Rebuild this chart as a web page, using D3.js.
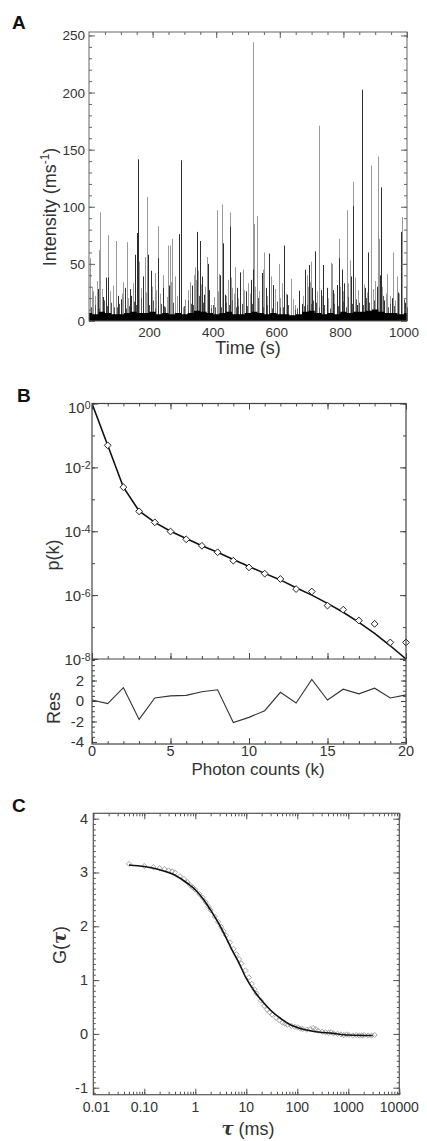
<!DOCTYPE html>
<html>
<head>
<meta charset="utf-8">
<script src="https://cdn.jsdelivr.net/npm/d3@7"></script>
<style>
  body { margin: 0; background: #fff; }
  svg text { font-family: "Liberation Sans", Arial, sans-serif; fill: #333; }
</style>
</head>
<body>
<svg id="fig" width="427" height="1141"></svg>
<script>
// ---- Panel A: intensity trace, [time (s), intensity (ms-1)] ----
const spikesLight = [
  [3,55],[13.6,26],[30.4,62],[35.6,95],[60.8,75],[85,70],[108,34],[118.5,69],[158,52],[175,56],
  [183,108.6],[206.5,42],[216,83],[231.7,40],[247.4,66],[253.7,66],[261,72],[269.4,39],[295.6,12],
  [316.6,34],[330,40],[334.4,47],[370,56],[384.7,14],[401.5,97],[408.8,41],[418,102],[437,36],
  [443.4,95],[449.7,29],[458,47],[484.3,45],[501,33],[515,244],[518.9,85],[527.3,92],[546,45],
  [551.3,60],[572.3,39],[596.5,50],[606,33],[634.3,37],[647.8,14],[685.5,40],[698,52],[723,171],
  [760,51],[763,50],[787,72],[810.2,97],[820.8,53],[831,121.8],[886,136],[887.8,38],[910,144],
  [913,72],[938,41],[955,60],[967.6,39],[985.3,91]
];
const spikesMid = [
  [8,30],[18,22],[25,35],[40,28],[66,26],[75,31],[104,24],[122,20],[137,33],[162,29],[179,25],
  [198,30],[210,27],[222,24],[244,21],[258,34],[276,22],[302,19],[312,27],[338,36],[344,44],
  [352,32],[366,30],[392,21],[405,26],[421,30],[431,22],[447,38],[455,24],[470,20],[488,27],
  [505,24],[522,30],[535,26],[560,22],[585,28],[602,20],[618,24],[641,19],[672,22],[688,30],
  [695,34],[716,26],[732,22],[752,20],[772,24],[790,30],[798,26],[816,33],[836,38],[847,27],
  [864,32],[873,25],[893,28],[900,35],[922,30],[933,24],[948,22],[962,18],[976,24],[997,30]
];
const spikesDark = [
  [28.3,28],[43,21],[53.5,38],[59.7,38],[92,22],[99.5,19],[113,29],[129,28],[132,22],[145.7,58],
  [150,77],[153,141.6],[170.9,39],[185.5,58],[195,44],[216,55],[233.8,29],[252.6,31],[284,76],
  [290,140.7],[324,31],[340.6,78],[348,70],[349,53],[356.4,39],[361.6,23],[373,50],[378.4,27],
  [413,40],[422.5,68],[426.6,23],[442.4,82.5],[464.4,29],[476,42.5],[492.7,26],[508.4,36],
  [514.8,45],[543,42],[556.6,29],[567,59],[579.6,31.5],[614,66],[621.7,23],[660.4,26.5],[668.8,15],
  [680,45],[692.8,49],[701.3,29],[710.7,61],[729.6,27],[736.9,49],[747.4,29],[766,27],[779,31.5],
  [786,55],[794.6,45],[802.9,33],[824,39],[831.5,100.5],[841.8,14],[857,202.5],[858.5,87],[868,29],
  [876.4,60],[904.7,30],[914,40],[918,117],[928.6,18],[952.8,20],[970.7,25],[981,78],[993.7,16]
];
const spikesSmall = [
  [20,14],[48,18],[70,16],[78,12],[95,15],[125,13],[140,17],[165,20],[190,14],[200,18],[225,15],
  [240,12],[265,16],[300,13],[310,18],[320,15],[345,22],[390,14],[395,12],[430,16],[450,18],[470,13],
  [480,15],[530,20],[560,14],[590,17],[600,12],[625,14],[655,11],[675,13],[705,18],[715,16],[740,14],
  [770,15],[800,17],[815,21],[840,19],[850,16],[870,20],[895,18],[925,22],[945,15],[960,13],[990,19],
  [5,12],[33,11],[57,13],[88,12],[116,11],[148,14],[171,12],[206,11],[236,13],[282,12],[327,14],
  [359,16],[383,11],[416,12],[440,14],[462,12],[497,13],[512,15],[548,12],[575,11],[610,12],
  [648,10],[684,14],[697,15],[724,12],[757,11],[782,13],[807,12],[828,15],[861,14],[881,16],
  [907,15],[916,17],[940,12],[972,11],[1000,12]
];
const baselineTime = [0,20,40,60,80,100,120,140,160,180,200,220,240,260,280,300,320,340,360,380,400,
  420,440,460,480,500,520,540,560,580,600,620,640,660,680,700,720,740,760,780,800,820,840,860,880,
  900,920,940,960,980,1000];
const baselineLevel = [7,6,8,7,6,6,7,8,7,7,8,6,7,6,7,6,7,9,8,7,6,7,8,6,6,7,8,7,6,7,6,6,5,6,8,9,7,6,7,6,
  8,7,8,8,9,10,8,7,7,6,7];
const timeTicks = [200,400,600,800,1000];
const intensityTicks = [0,50,100,150,200,250];

// ---- Panel B: photon counting histogram ----
const photonK = [1,2,3,4,5,6,7,8,9,10,11,12,13,14,15,16,17,18,19,20];
const pkObserved = [4.9e-2,2.4e-3,4.2e-4,1.9e-4,9.8e-5,5.6e-5,3.5e-5,2.2e-5,1.2e-5,7.4e-6,4.7e-6,
  3.2e-6,1.55e-6,1.3e-6,4.7e-7,3.5e-7,1.6e-7,1.26e-7,3.3e-8,3.3e-8];
const fitK = [0,1,2,3,4,5,6,7,8,9,10,11,12,13,14,15,16,17,18,19,20];
const pkFit = [1,4.9e-2,2.4e-3,4.3e-4,1.9e-4,1.0e-4,5.9e-5,3.5e-5,2.2e-5,1.3e-5,7.9e-6,4.8e-6,
  3.0e-6,1.7e-6,1.0e-6,5.5e-7,2.9e-7,1.4e-7,6.3e-8,2.6e-8,1.0e-8];
const residuals = [0.1,-0.25,1.3,-1.8,0.3,0.5,0.55,0.9,1.1,-2.1,-1.6,-0.95,0.85,-0.2,2.1,0.1,1.15,
  0.7,1.25,0.3,0.6];
const kTicks = [0,5,10,15,20];
const pkTicks = [0,-2,-4,-6,-8];
const resTicks = [2,0,-2,-4];

// ---- Panel C: autocorrelation ----
const tauData = [0.05,0.1,0.15,0.2,0.25,0.3,0.35,0.4,0.5,0.6,0.7,0.8,0.9,1.0,1.2,1.4,1.6,1.8,2.0,
  2.4,2.8,3.2,3.6,4.0,4.8,5.6,6.4,7.2,8.0,9.6,11.2,12.8,14.4,16,19.2,22.4,25.6,28.8,32,38.4,44.8,
  51.2,57.6,64,76.8,89.6,102,115,128,154,179,205,230,256,307,358,410,461,512,614,717,819,922,1024,
  1229,1434,1638,1843,2048,2458,2867,3277];
const gData = [3.16,3.12,3.10,3.08,3.06,3.04,3.02,3.00,2.93,2.88,2.82,2.76,2.72,2.68,2.60,2.53,2.45,
  2.37,2.30,2.18,2.08,1.99,1.91,1.83,1.70,1.58,1.48,1.39,1.31,1.18,1.05,0.93,0.83,0.75,0.62,0.52,
  0.45,0.40,0.36,0.30,0.25,0.21,0.19,0.17,0.15,0.13,0.12,0.10,0.09,0.08,0.09,0.11,0.09,0.06,0.04,
  0.03,0.02,0.03,0.01,0.00,-0.01,-0.02,-0.01,-0.02,-0.03,-0.02,-0.03,-0.03,-0.02,-0.03,-0.03,-0.02];
const tauFit = [0.05,0.1,0.2,0.4,0.7,1,1.5,2,3,4,5,7,10,15,20,30,50,70,100,200,500,1000,3000];
const gFit = [3.14,3.11,3.05,2.95,2.80,2.68,2.48,2.30,2.02,1.79,1.60,1.34,1.03,0.77,0.62,0.44,0.27,
  0.18,0.12,0.05,0.01,-0.02,-0.03];
const tauTicks = [0.01,0.1,1,10,100,1000,10000];
const tauLabels = ["0.01","0.10","1","10","100","1000","10000"];
const gTicks = [4,3,2,1,0,-1];

const svg = d3.select("#fig");

function ticks(g, axis, transform, color) {
  g.append("g")
    .attr("transform", transform)
    .call(axis)
    .call(s => s.select(".domain").remove())
    .call(s => s.selectAll("line").attr("stroke", color))
    .call(s => s.selectAll("text").remove());
}

function panelLabel(x, y, t) {
  svg.append("text").attr("x", x).attr("y", y)
    .style("font-size", "19px").style("font-weight", "bold").style("fill", "#111").text(t);
}

// ================= A =================
(function () {
  const x = d3.scaleLinear().domain([0, 1000]).range([89, 407]);
  const y = d3.scaleLinear().domain([0, 253]).range([321, 32]);
  const col = "#666";
  const g = svg.append("g");

  panelLabel(12, 28.5, "A");

  const px = d => Math.round(x(d[0])) + 0.5;
  function spikes(data, color) {
    g.append("g").selectAll("line").data(data).join("line")
      .attr("x1", px).attr("x2", px).attr("y1", y(0)).attr("y2", d => y(d[1]))
      .attr("stroke", color).attr("stroke-width", 1);
  }
  spikes(spikesLight, "#999");
  spikes(spikesMid, "#9e9e9e");
  spikes(spikesSmall, "#555");
  spikes(spikesDark, "#2e2e2e");

  const area = d3.area().curve(d3.curveStep)
    .x((d, i) => x(baselineTime[i])).y0(y(0)).y1(d => y(d));
  g.append("path").datum(baselineLevel).attr("d", area).attr("fill", "#000");

  // frame + inward ticks
  ticks(g, d3.axisLeft(y).tickValues(d3.range(0, 251, 10)).tickSize(-3), "translate(89,0)", col);
  ticks(g, d3.axisLeft(y).tickValues(intensityTicks).tickSize(-6), "translate(89,0)", col);
  ticks(g, d3.axisRight(y).tickValues(d3.range(0, 251, 10)).tickSize(-3), "translate(407,0)", col);
  ticks(g, d3.axisRight(y).tickValues(intensityTicks).tickSize(-6), "translate(407,0)", col);
  ticks(g, d3.axisTop(x).tickValues(d3.range(50, 1000, 50)).tickSize(-3), "translate(0,32)", col);
  ticks(g, d3.axisTop(x).tickValues(timeTicks).tickSize(-6), "translate(0,32)", col);
  g.append("rect").attr("x", 89).attr("y", 32).attr("width", 318).attr("height", 289)
    .attr("fill", "none").attr("stroke", col).attr("stroke-width", 1);

  g.selectAll(".yl").data(intensityTicks).join("text")
    .attr("x", 85).attr("y", d => y(d) + 5).attr("text-anchor", "end")
    .style("font-size", "13.5px").text(d => d);
  g.selectAll(".xl").data(timeTicks).join("text")
    .attr("x", d => x(d) - 3).attr("y", 336.5).attr("text-anchor", "middle")
    .style("font-size", "13.5px").text(d => d);

  g.append("text").attr("x", 248).attr("y", 354).attr("text-anchor", "middle")
    .style("font-size", "18px").text("Time (s)");
  const yt = g.append("text").attr("transform", "translate(56,207) rotate(-90)")
    .attr("text-anchor", "middle").style("font-size", "18px");
  yt.append("tspan").text("Intensity (ms");
  yt.append("tspan").attr("dy", -7).style("font-size", "12px").text("-1");
  yt.append("tspan").attr("dy", 7).text(")");
})();

// ================= B =================
(function () {
  const x = d3.scaleLinear().domain([0, 20]).range([92, 406]);
  const y = d3.scaleLog().domain([1e-8, 1]).range([659, 403.5]);
  const yr = d3.scaleLinear().domain([-4.2, 4.1]).range([744, 659]);
  const col = "#444";
  const g = svg.append("g");

  panelLabel(17, 401.5, "B");

  g.append("defs").append("clipPath").attr("id", "clipB")
    .append("rect").attr("x", 92).attr("y", 403.5).attr("width", 314).attr("height", 255.5);

  const line = d3.line().x((d, i) => x(fitK[i])).y(d => y(d));
  g.append("path").datum(pkFit).attr("d", line).attr("clip-path", "url(#clipB)")
    .attr("fill", "none").attr("stroke", "#111").attr("stroke-width", 1.6);

  const r = 3.4;
  g.selectAll(".dm").data(pkObserved).join("path")
    .attr("d", (d, i) => {
      const cx = x(photonK[i]), cy = y(d);
      return `M${cx},${cy - r}L${cx + r},${cy}L${cx},${cy + r}L${cx - r},${cy}Z`;
    })
    .attr("fill", "#fff").attr("stroke", "#222").attr("stroke-width", 1);

  const rline = d3.line().x((d, i) => x(fitK[i])).y(d => yr(d));
  g.append("path").datum(residuals).attr("d", rline)
    .attr("fill", "none").attr("stroke", "#333").attr("stroke-width", 1.1);

  // ticks
  const decades = [1, 1e-1, 1e-2, 1e-3, 1e-4, 1e-5, 1e-6, 1e-7, 1e-8];
  const evenDec = [1, 1e-2, 1e-4, 1e-6, 1e-8];
  ticks(g, d3.axisLeft(y).tickValues(decades).tickSize(-3), "translate(92,0)", col);
  ticks(g, d3.axisLeft(y).tickValues(evenDec).tickSize(-6), "translate(92,0)", col);
  ticks(g, d3.axisRight(y).tickValues(decades).tickSize(-3), "translate(406,0)", col);
  ticks(g, d3.axisRight(y).tickValues(evenDec).tickSize(-6), "translate(406,0)", col);
  ticks(g, d3.axisTop(x).tickValues(d3.range(1, 20)).tickSize(-3), "translate(0,403.5)", col);
  ticks(g, d3.axisTop(x).tickValues(kTicks).tickSize(-6), "translate(0,403.5)", col);
  ticks(g, d3.axisBottom(x).tickValues(d3.range(1, 20)).tickSize(-3), "translate(0,659)", col);
  ticks(g, d3.axisBottom(x).tickValues(kTicks).tickSize(-6), "translate(0,659)", col);
  ticks(g, d3.axisLeft(yr).tickValues(d3.range(-4, 4.01, 0.5)).tickSize(-3), "translate(92,0)", col);
  ticks(g, d3.axisLeft(yr).tickValues(resTicks).tickSize(-5), "translate(92,0)", col);
  ticks(g, d3.axisRight(yr).tickValues(d3.range(-4, 4.01, 0.5)).tickSize(-3), "translate(406,0)", col);
  ticks(g, d3.axisRight(yr).tickValues(resTicks).tickSize(-5), "translate(406,0)", col);
  ticks(g, d3.axisBottom(x).tickValues(d3.range(1, 20)).tickSize(-3), "translate(0,744)", col);
  ticks(g, d3.axisBottom(x).tickValues(kTicks).tickSize(-6), "translate(0,744)", col);

  g.append("rect").attr("x", 92).attr("y", 403.5).attr("width", 314).attr("height", 340.5)
    .attr("fill", "none").attr("stroke", col).attr("stroke-width", 1.2);
  g.append("line").attr("x1", 92).attr("x2", 406).attr("y1", 659).attr("y2", 659)
    .attr("stroke", col).attr("stroke-width", 1.2);

  // labels
  g.selectAll(".pl").data(pkTicks).join("text")
    .attr("x", 90.5).attr("y", d => y(Math.pow(10, d)) + (d === 0 ? 9 : 5.5))
    .attr("text-anchor", "end").style("font-size", "15px")
    .each(function (d) {
      const t = d3.select(this);
      t.append("tspan").text("10");
      t.append("tspan").attr("dy", -4).style("font-size", "10.5px").text(d);
    });
  g.selectAll(".rl").data(resTicks).join("text")
    .attr("x", 84).attr("y", d => yr(d) + 5.5).attr("text-anchor", "end")
    .style("font-size", "15px").text(d => d);
  g.selectAll(".kl").data(kTicks).join("text")
    .attr("x", d => x(d)).attr("y", 756).attr("text-anchor", "middle")
    .style("font-size", "14.5px").text(d => d);

  g.append("text").attr("x", 258).attr("y", 775).attr("text-anchor", "middle")
    .style("font-size", "17px").text("Photon counts (k)");
  g.append("text").attr("transform", "translate(59,555) rotate(-90)")
    .attr("text-anchor", "middle").style("font-size", "18px").text("p(k)");
  g.append("text").attr("transform", "translate(60,708) rotate(-90)")
    .attr("text-anchor", "middle").style("font-size", "18px").text("Res");
})();

// ================= C =================
(function () {
  const x = d3.scaleLog().domain([0.01, 10000]).range([93.3, 399.3]);
  const y = d3.scaleLinear().domain([-1.13, 4.1]).range([1094.7, 813.3]);
  const col = "#555";
  const g = svg.append("g");

  panelLabel(12, 811.5, "C");

  const r = 2.6;
  g.selectAll(".dc").data(gData).join("path")
    .attr("d", (d, i) => {
      const cx = x(tauData[i]), cy = y(d);
      return `M${cx},${cy - r}L${cx + r},${cy}L${cx},${cy + r}L${cx - r},${cy}Z`;
    })
    .attr("fill", "none").attr("stroke", "#9a9a9a").attr("stroke-width", 0.9);

  const line = d3.line().curve(d3.curveMonotoneX).x((d, i) => x(tauFit[i])).y(d => y(d));
  g.append("path").datum(gFit).attr("d", line)
    .attr("fill", "none").attr("stroke", "#111").attr("stroke-width", 1.6);

  const minor = x.ticks();
  ticks(g, d3.axisTop(x).tickValues(minor).tickSize(-3), "translate(0,813.3)", col);
  ticks(g, d3.axisTop(x).tickValues(tauTicks).tickSize(-6), "translate(0,813.3)", col);
  ticks(g, d3.axisBottom(x).tickValues(minor).tickSize(-3), "translate(0,1094.7)", col);
  ticks(g, d3.axisBottom(x).tickValues(tauTicks).tickSize(-6), "translate(0,1094.7)", col);
  const yMinor = d3.range(-11, 41).map(v => v / 10);
  ticks(g, d3.axisLeft(y).tickValues(yMinor).tickSize(-2.5), "translate(93.3,0)", col);
  ticks(g, d3.axisLeft(y).tickValues(gTicks).tickSize(-6), "translate(93.3,0)", col);
  ticks(g, d3.axisRight(y).tickValues(yMinor).tickSize(-2.5), "translate(399.3,0)", col);
  ticks(g, d3.axisRight(y).tickValues(gTicks).tickSize(-6), "translate(399.3,0)", col);

  g.append("rect").attr("x", 93.3).attr("y", 813.3).attr("width", 306).attr("height", 281.4)
    .attr("fill", "none").attr("stroke", col).attr("stroke-width", 1.2);

  g.selectAll(".gl").data(gTicks).join("text")
    .attr("x", 88).attr("y", d => y(d) + 5).attr("text-anchor", "end")
    .style("font-size", "14.5px").text(d => d);
  g.selectAll(".tl").data(tauTicks).join("text")
    .attr("x", d => x(d) + (d === 0.01 ? 3 : 0)).attr("y", 1111.5).attr("text-anchor", "middle")
    .style("font-size", "14px").text((d, i) => tauLabels[i]);

  const xt = g.append("text").attr("x", 248).attr("y", 1135).attr("text-anchor", "middle")
    .style("font-size", "18px");
  xt.append("tspan").style("font-family", "'DejaVu Serif', serif").style("font-weight", "bold")
    .style("font-style", "italic").text("τ");
  xt.append("tspan").text(" (ms)");
  const yt = g.append("text").attr("transform", "translate(66,945) rotate(-90)")
    .attr("text-anchor", "middle").style("font-size", "18px");
  yt.append("tspan").text("G(");
  yt.append("tspan").style("font-family", "'DejaVu Serif', serif").style("font-weight", "bold")
    .style("font-style", "italic").text("τ");
  yt.append("tspan").text(")");
})();
</script>
</body>
</html>
